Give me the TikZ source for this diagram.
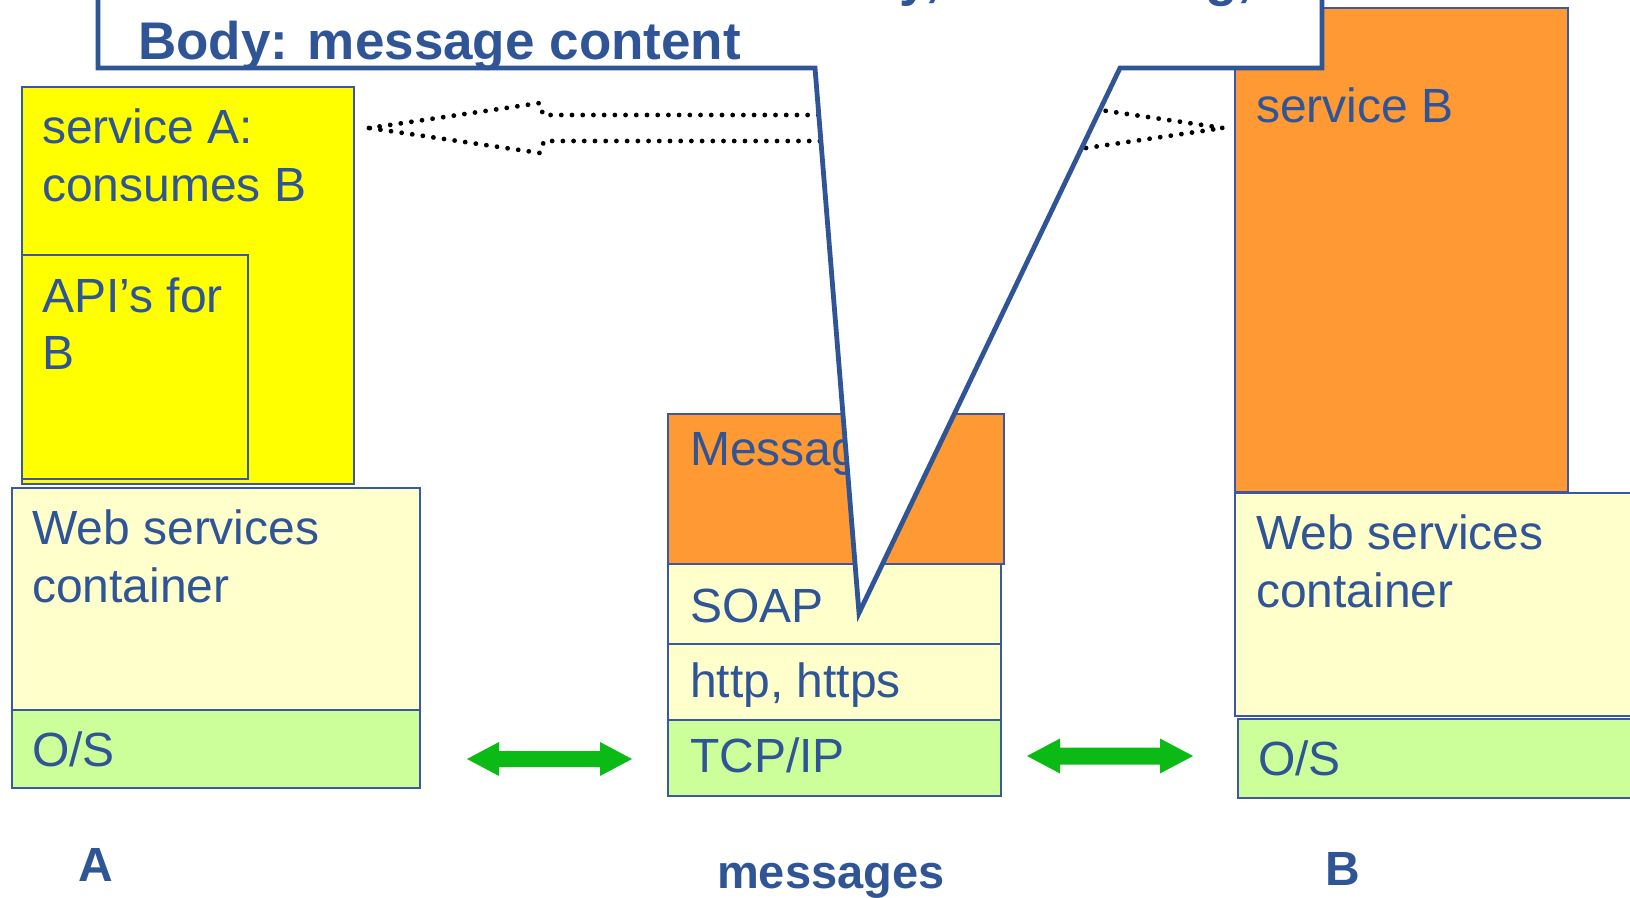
\documentclass[tikz,border=0pt]{standalone}
\usepackage{fontspec}
\setmainfont{Liberation Sans}
\usetikzlibrary{calc}
\definecolor{txtblue}{RGB}{47,85,151}
\definecolor{edgeblue}{RGB}{59,89,160}
\definecolor{svcyellow}{RGB}{255,255,0}
\definecolor{paleyellow}{RGB}{255,255,204}
\definecolor{palegreen}{RGB}{204,255,153}
\definecolor{svcorange}{RGB}{255,153,51}
\definecolor{linkgreen}{RGB}{12,186,22}
\begin{document}
\begin{tikzpicture}[x=1pt,y=-1pt,
  box/.style={draw=edgeblue, line width=1.6pt, inner sep=0pt, anchor=north west},
  lbl/.style={anchor=base west, inner sep=0pt, text=txtblue, font=\fontsize{48}{56}\selectfont},
  tag/.style={anchor=base west, inner sep=0pt, text=txtblue, font=\bfseries\fontsize{48}{56}\selectfont},
  calltext/.style={anchor=base west, inner sep=0pt, text=txtblue, font=\bfseries\fontsize{53}{64}\selectfont},
  dotline/.style={draw=black, line width=4.8pt, line cap=round, dash pattern=on 0.01pt off 10.7pt},
  link/.style={fill=linkgreen}]
\useasboundingbox (0,0) rectangle (1630,897);
\clip (0,0) rectangle (1630,897);

% host A
\node[box, fill=svcyellow, minimum width=332pt, minimum height=397pt] (svcA) at (21,86) {};
\node[box, fill=svcyellow, minimum width=226pt, minimum height=224pt] (apiA) at (21,254) {};
\node[box, fill=paleyellow, minimum width=408pt, minimum height=222pt] (wsA) at (11,487) {};
\node[box, fill=palegreen, minimum width=408pt, minimum height=78pt] (osA) at (11,709) {};
\node[lbl] (svcAa) at (42,143) {service A:};
\node[lbl] (svcAb) at (42,201) {consumes B};
\node[lbl] (apiAa) at (42,312) {API’s for};
\node[lbl] (apiAb) at (42,369) {B};
\node[lbl] (wsAa) at (32,544) {Web services};
\node[lbl] (wsAb) at (32,602) {container};
\node[lbl] (osAa) at (32,766) {O/S};

% message stack
\node[box, fill=svcorange, minimum width=336pt, minimum height=150pt] (msg) at (667,413) {};
\node[box, fill=paleyellow, minimum width=333pt, minimum height=80pt] (soap) at (667,563) {};
\node[box, fill=paleyellow, minimum width=333pt, minimum height=76pt] (http) at (667,643) {};
\node[box, fill=palegreen, minimum width=333pt, minimum height=76pt] (tcp) at (667,719) {};
\node[lbl] (msgt) at (690,465) {Message};
\node[lbl] (soapt) at (690,622) {SOAP};
\node[lbl] (httpt) at (690,697) {http, https};
\node[lbl] (tcpt) at (690,772) {TCP/IP};

% host B
\node[box, fill=svcorange, minimum width=333pt, minimum height=484pt] (svcB) at (1234,7) {};
\node[box, fill=paleyellow, minimum width=420pt, minimum height=223pt] (wsB) at (1234,492) {};
\node[box, fill=palegreen, minimum width=420pt, minimum height=79pt] (osB) at (1237,718) {};
\node[lbl] (svcBt) at (1256,122) {service B};
\node[lbl] (wsBa) at (1256,549) {Web services};
\node[lbl] (wsBb) at (1256,607) {container};
\node[lbl] (osBt) at (1258,775) {O/S};

% captions
\node[tag] (capA) at (78,881) {A};
\node[tag, font=\bfseries\fontsize{47}{56}\selectfont] (capM) at (717,888) {messages};
\node[tag] (capB) at (1325,885) {B};

% dotted two-way block arrow between the services
\coordinate (dl) at (369,128);
\coordinate (dr) at (1223,128);
\draw[dotline] (dl) -- ++(171,-25) -- ++(3,12) -- ($(dr)+(-171,-13)$) -- ++(0,-12)
  -- (dr) -- ++(-171,25) -- ++(0,-12) -- ($(dl)+(175,13)$) -- ++(-4,12) -- cycle;

% green two-way arrows on the wire
\coordinate (gl1) at (467,759);
\coordinate (gr1) at (632,759);
\fill[link] (gl1) -- ++(32,-17) -- ++(0,9) -- ($(gr1)+(-32,-8)$) -- ++(0,-9) -- (gr1)
  -- ++(-32,17) -- ++(0,-9) -- ($(gl1)+(32,8)$) -- ++(0,9) -- cycle;
\coordinate (gl2) at (1027,756);
\coordinate (gr2) at (1193,756);
\fill[link] (gl2) -- ++(33,-17.5) -- ++(0,9) -- ($(gr2)+(-33,-8.5)$) -- ++(0,-9) -- (gr2)
  -- ++(-33,17.5) -- ++(0,-9) -- ($(gl2)+(33,8.5)$) -- ++(0,9) -- cycle;

% callout pointing into the SOAP layer
\coordinate (tip) at (859,613);
\draw[fill=white, draw=txtblue, line width=4.8pt, line join=miter]
  (98,-20) -- (98,68) -- (815,68) -- (tip) -- (1120,68) -- (1322,68) -- (1322,-20) -- cycle;
\node[calltext] (hdr) at (138,-5) {Header: how to handle security, addressing,};
\node[calltext] (body) at (138,59) {Body: message content};
\end{tikzpicture}
\end{document}
